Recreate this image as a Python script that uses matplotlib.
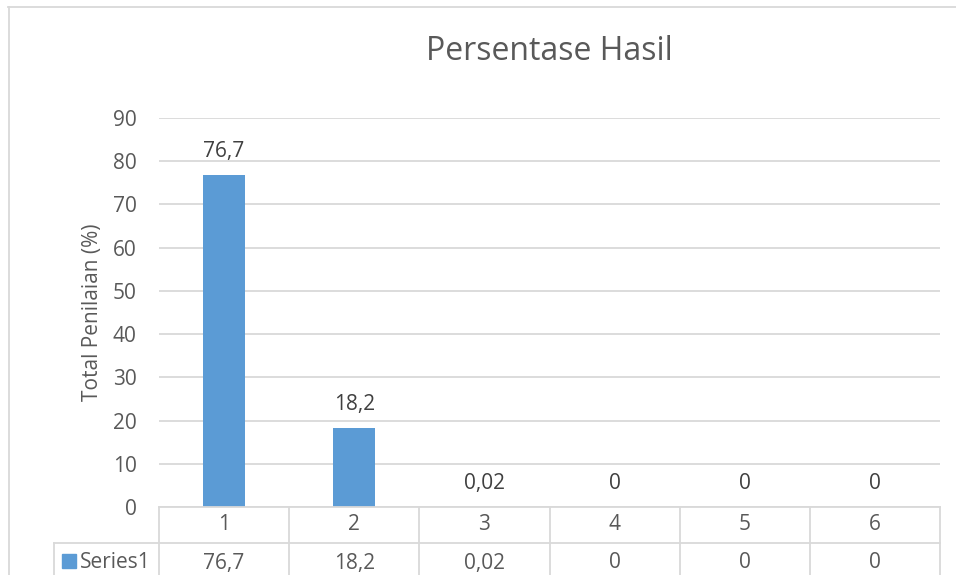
import matplotlib
matplotlib.use("Agg")
from matplotlib import pyplot as plt
from matplotlib.patches import Rectangle
from matplotlib.transforms import blended_transform_factory

plt.rcParams["font.family"] = ["Open Sans", "DejaVu Sans"]

categories = ["1", "2", "3", "4", "5", "6"]
values = [76.7, 18.2, 0.02, 0, 0, 0]
value_labels = ["76,7", "18,2", "0,02", "0", "0", "0"]
series_name = "Series1"
yticks = [0, 10, 20, 30, 40, 50, 60, 70, 80, 90]

W, H = 956, 575
bar_color = "#5B9BD5"
grid_color = "#D9D9D9"
text_color = "#595959"
fs = 15

fig = plt.figure(figsize=(W / 100, H / 100), dpi=100)

# plot area in pixels: x 159..940, y 118 (90) .. 507 (0)
ax = fig.add_axes([159 / W, (H - 507) / H, (940 - 159) / W, (507 - 118) / H])
x = list(range(len(categories)))
ax.bar(x, values, width=0.32, color=bar_color, zorder=2)
ax.set_xlim(-0.5, len(categories) - 0.5)
ax.set_ylim(0, 90)
ax.set_yticks(yticks)
ax.set_yticklabels([str(t) for t in yticks])
ax.yaxis.grid(True, color=grid_color, linewidth=1.3, zorder=0)
ax.set_xticks([])
ax.tick_params(axis="y", length=0, pad=16, labelsize=fs, colors=text_color)
for s in ax.spines.values():
    s.set_visible(False)

for xi, v, lab in zip(x, values, value_labels):
    ax.annotate(lab, (xi, v), xytext=(0, 13), textcoords="offset points",
                ha="center", va="baseline", fontsize=fs, color="#404040")

ax.set_ylabel("Total Penilaian (%)", fontsize=15, color=text_color)
ax.yaxis.set_label_coords(-0.072, 0.5)

fig.text(549 / W, (H - 52) / H, "Persentase Hasil", ha="center", va="center",
         fontsize=23, color=text_color)

# data table below the axis
tr = blended_transform_factory(ax.transData, fig.transFigure)
def fy(py):
    return (H - py) / H

left_edge = -0.5 - (159 - 54) / ((940 - 159) / len(categories))
n = len(categories)
lk = dict(color=grid_color, linewidth=1.3, transform=tr, clip_on=False)
ax.plot([-0.5, n - 0.5], [fy(507), fy(507)], **lk)
ax.plot([left_edge, n - 0.5], [fy(543), fy(543)], **lk)
for i in range(n + 1):
    ax.plot([i - 0.5, i - 0.5], [fy(507), fy(580)], **lk)
ax.plot([left_edge, left_edge], [fy(543), fy(580)], **lk)

for xi, c, lab in zip(x, categories, value_labels):
    ax.text(xi, fy(525), c, ha="center", va="center", fontsize=fs,
            color=text_color, transform=tr)
    ax.text(xi, fy(563), lab, ha="center", va="center", fontsize=fs,
            color=text_color, transform=tr)

fig.patches.append(Rectangle((62 / W, fy(568)), 14 / W, 14 / H,
                             transform=fig.transFigure, color=bar_color))
fig.text(80 / W, fy(563), series_name, ha="left", va="center", fontsize=fs,
         color=text_color)

# chart border
fig.add_artist(plt.Line2D([8 / W, 1], [fy(6.5), fy(6.5)], color=grid_color,
                          linewidth=1.3, transform=fig.transFigure))
fig.add_artist(plt.Line2D([8.5 / W, 8.5 / W], [fy(6.5), 0], color=grid_color,
                          linewidth=1.3, transform=fig.transFigure))

fig.savefig("out.png", dpi=100)
